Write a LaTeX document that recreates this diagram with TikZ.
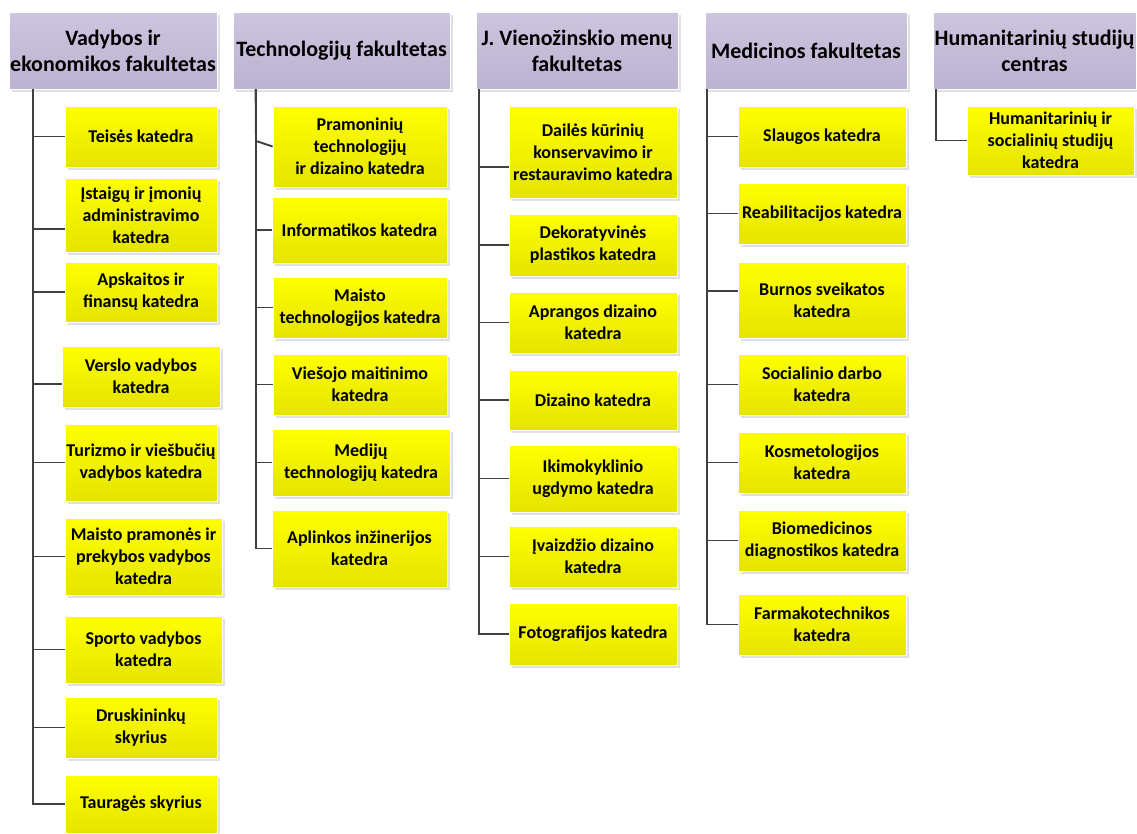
\documentclass[tikz,border=0pt]{standalone}
\usepackage{fontspec}
\setmainfont{Carlito}
\usepackage{tikz}
\usetikzlibrary{shadows}
\usepackage{xcolor}
\definecolor{fakviolet}{RGB}{205, 196, 222}
\definecolor{fakvioletd}{RGB}{189, 179, 210}
\definecolor{katyellow}{RGB}{255, 255, 0}
\definecolor{katyellowd}{RGB}{228, 228, 0}
\definecolor{linegray}{RGB}{64, 64, 64}

\begin{document}
\begin{tikzpicture}[
    x=1pt, y=-1pt,
    fak/.style={
        rectangle,
        draw=white,
        line width=0.8pt,
        top color=fakviolet,
        bottom color=fakvioletd,
        align=center,
        inner sep=0pt,
        minimum height=77pt,
        drop shadow={shadow xshift=2.5pt, shadow yshift=-2.5pt, fill=black!30, opacity=0.4},
        font=\fontsize{22}{26}\selectfont\bfseries
    },
    kat/.style={
        rectangle,
        draw=white,
        line width=0.8pt,
        top color=katyellow,
        bottom color=katyellowd,
        align=center,
        inner sep=0pt,
        drop shadow={shadow xshift=2.5pt, shadow yshift=-2.5pt, fill=black!30, opacity=0.4},
        font=\fontsize{18}{22}\selectfont\bfseries
    },
    line/.style={draw=linegray, line width=1.9pt}
]
    \useasboundingbox (0,0) rectangle (1137,833);

    % Fakultetai
    \node [fak, minimum width=208pt] (vef) at (113,50.5) {Vadybos ir\\ekonomikos fakultetas};
    \node [fak, minimum width=217pt] (tf) at (341.5,50.5) {Technologijų fakultetas};
    \node [fak, minimum width=202pt] (vmf) at (577,50.5) {J. Vienožinskio menų\\fakultetas};
    \node [fak, minimum width=202pt] (mf) at (806,50.5) {Medicinos fakultetas};
    \node [fak, minimum width=203pt] (hsc) at (1034.5,50.5) {Humanitarinių studijų\\centras};

    % Katedros - Vadybos ir ekonomikos fakultetas
    \node [kat, minimum width=152pt, minimum height=61pt] (teises) at (141,136.5) {Teisės katedra};
    \node [kat, minimum width=152pt, minimum height=74pt] (istaigu) at (141,215) {Įstaigų ir įmonių\\administravimo\\katedra};
    \node [kat, minimum width=152pt, minimum height=60pt] (apskaitos) at (141,292) {Apskaitos ir\\finansų katedra};
    \node [kat, minimum width=158pt, minimum height=61pt] (verslo) at (141,376.5) {Verslo vadybos\\katedra};
    \node [kat, minimum width=152pt, minimum height=77pt] (turizmo) at (141,462.5) {Turizmo ir viešbučių\\vadybos katedra};
    \node [kat, minimum width=157pt, minimum height=77pt] (maistopr) at (143.5,556.5) {Maisto pramonės ir\\prekybos vadybos\\katedra};
    \node [kat, minimum width=157pt, minimum height=67pt] (sporto) at (143.5,649.5) {Sporto vadybos\\katedra};
    \node [kat, minimum width=152pt, minimum height=61pt] (druskininku) at (141,727.5) {Druskininkų\\skyrius};
    \node [kat, minimum width=152pt, minimum height=58pt] (taurages) at (141,804) {Tauragės skyrius};

    % Katedros - Technologijų fakultetas
    \node [kat, minimum width=174pt, minimum height=81pt] (pramoniniu) at (360,146.5) {Pramoninių\\technologijų\\ir dizaino katedra};
    \node [kat, minimum width=175pt, minimum height=66pt] (informatikos) at (359.5,230) {Informatikos katedra};
    \node [kat, minimum width=174pt, minimum height=61pt] (maistotech) at (360,307.5) {Maisto\\technologijos katedra};
    \node [kat, minimum width=174pt, minimum height=61pt] (viesojo) at (360,384.5) {Viešojo maitinimo\\katedra};
    \node [kat, minimum width=178pt, minimum height=67pt] (mediju) at (361,462.5) {Medijų\\technologijų katedra};
    \node [kat, minimum width=175pt, minimum height=77pt] (aplinkos) at (359.5,548.5) {Aplinkos inžinerijos\\katedra};

    % Katedros - J. Vienožinskio menų fakultetas
    \node [kat, minimum width=168pt, minimum height=92pt] (dailes) at (593,152) {Dailės kūrinių\\konservavimo ir\\restauravimo katedra};
    \node [kat, minimum width=168pt, minimum height=62pt] (dekoratyvines) at (593,245) {Dekoratyvinės\\plastikos katedra};
    \node [kat, minimum width=168pt, minimum height=61pt] (aprangos) at (593,322.5) {Aprangos dizaino\\katedra};
    \node [kat, minimum width=168pt, minimum height=60pt] (dizaino) at (593,400) {Dizaino katedra};
    \node [kat, minimum width=168pt, minimum height=67pt] (ikimokyklinio) at (593,478.5) {Ikimokyklinio\\ugdymo katedra};
    \node [kat, minimum width=168pt, minimum height=61pt] (ivaizdzio) at (593,556.5) {Įvaizdžio dizaino\\katedra};
    \node [kat, minimum width=168pt, minimum height=62pt] (fotografijos) at (593,634) {Fotografijos katedra};

    % Katedros - Medicinos fakultetas
    \node [kat, minimum width=168pt, minimum height=61pt] (slaugos) at (822,136.5) {Slaugos katedra};
    \node [kat, minimum width=168pt, minimum height=61pt] (reabilitacijos) at (822,213.5) {Reabilitacijos katedra};
    \node [kat, minimum width=168pt, minimum height=76pt] (burnos) at (822,300) {Burnos sveikatos\\katedra};
    \node [kat, minimum width=168pt, minimum height=61pt] (socialinio) at (822,384.5) {Socialinio darbo\\katedra};
    \node [kat, minimum width=168pt, minimum height=61pt] (kosmetologijos) at (822,462.5) {Kosmetologijos\\katedra};
    \node [kat, minimum width=168pt, minimum height=61pt] (biomedicinos) at (822,540.5) {Biomedicinos\\diagnostikos katedra};
    \node [kat, minimum width=168pt, minimum height=61pt] (farmakotechnikos) at (822,624.5) {Farmakotechnikos\\katedra};

    % Katedros - Humanitarinių studijų centras
    \node [kat, minimum width=167pt, minimum height=69pt] (humsoc) at (1050.5,140.5) {Humanitarinių ir\\socialinių studijų\\katedra};

    % Kamienai
    \coordinate (t1) at ([xshift=24.5pt]vef.south west);
    \coordinate (t2) at ([xshift=23pt]tf.south west);
    \coordinate (t2s) at (256,141);
    \coordinate (t3) at ([xshift=3pt]vmf.south west);
    \coordinate (t4) at ([xshift=2pt]mf.south west);
    \coordinate (t5) at ([xshift=3pt]hsc.south west);

    % Jungtys
    \path [line] (t1) |- (teises.west);
    \path [line] (t1) |- ([yshift=-14pt]istaigu.west);
    \path [line] (t1) |- (apskaitos.west);
    \path [line] (t1) |- ([yshift=-7.5pt]verslo.west);
    \path [line] (t1) |- (turizmo.west);
    \path [line] (t1) |- (maistopr.west);
    \path [line] (t1) |- (sporto.west);
    \path [line] (t1) |- (druskininku.west);
    \path [line] (t1) |- (taurages.west);

    \path [line] (t2) -- (t2s) -- (pramoniniu.west);
    \path [line] (t2) |- (informatikos.west);
    \path [line] (t2) |- (maistotech.west);
    \path [line] (t2) |- (viesojo.west);
    \path [line] (t2) |- (mediju.west);
    \path [line] (t2) |- (aplinkos.west);

    \path [line] (t3) |- ([yshift=-15pt]dailes.west);
    \path [line] (t3) |- (dekoratyvines.west);
    \path [line] (t3) |- (aprangos.west);
    \path [line] (t3) |- (dizaino.west);
    \path [line] (t3) |- (ikimokyklinio.west);
    \path [line] (t3) |- (ivaizdzio.west);
    \path [line] (t3) |- (fotografijos.west);

    \path [line] (t4) |- (slaugos.west);
    \path [line] (t4) |- (reabilitacijos.west);
    \path [line] (t4) |- ([yshift=9pt]burnos.west);
    \path [line] (t4) |- (socialinio.west);
    \path [line] (t4) |- (kosmetologijos.west);
    \path [line] (t4) |- (biomedicinos.west);
    \path [line] (t4) |- (farmakotechnikos.west);

    \path [line] (t5) |- (humsoc.west);

\end{tikzpicture}
\end{document}
